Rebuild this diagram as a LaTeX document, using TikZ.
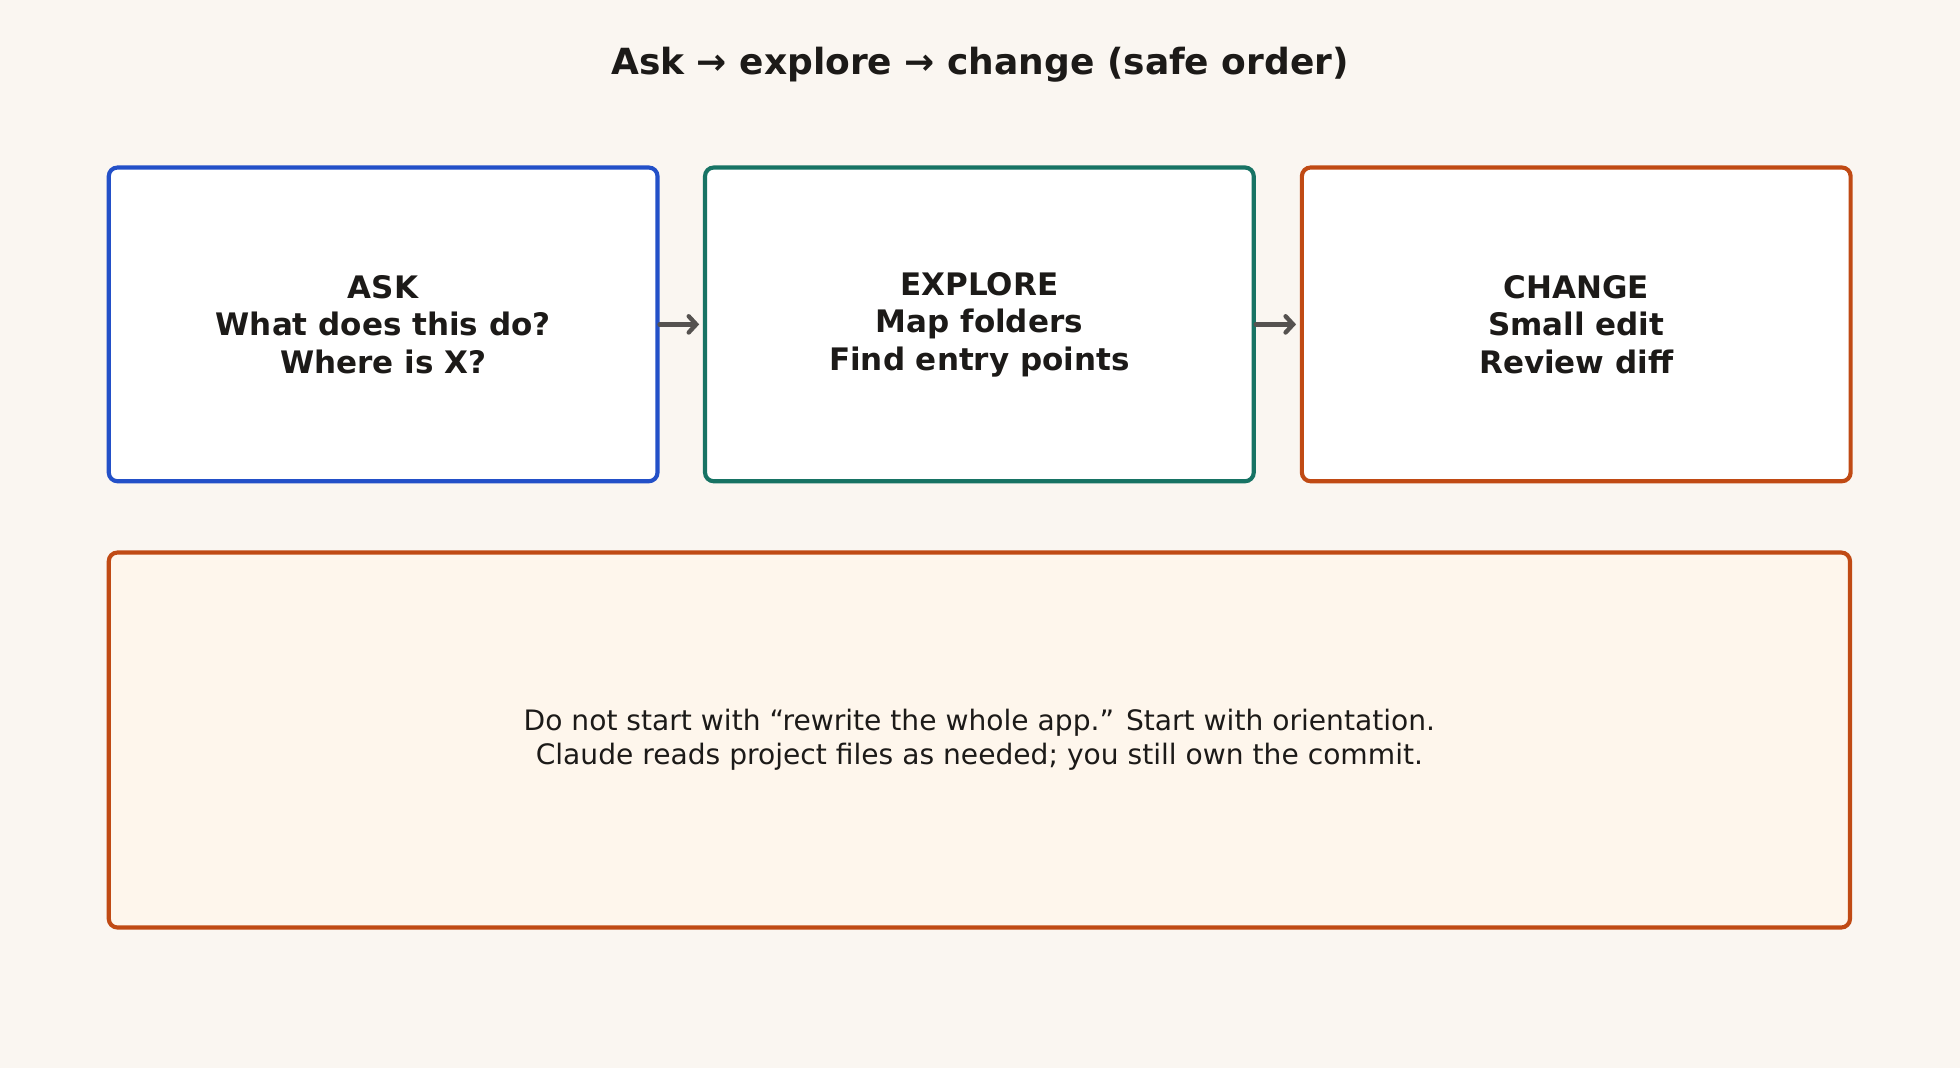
\documentclass[tikz,border=0pt]{standalone}
\usepackage{fontspec}
\setmainfont{DejaVu Sans}
\usetikzlibrary{arrows.meta}
\definecolor{bg}{HTML}{FAF6F1}
\definecolor{cblue}{HTML}{2350C8}
\definecolor{cteal}{HTML}{177364}
\definecolor{corange}{HTML}{C04A14}
\definecolor{note}{HTML}{FEF6EC}
\definecolor{ink}{HTML}{1C1A18}
\definecolor{arr}{HTML}{555250}
\begin{document}
\begin{tikzpicture}[x=1pt,y=-1pt,
  box/.style={draw,line width=3.3pt,rounded corners=7pt,fill=white,minimum width=439pt,minimum height=251pt,align=center,font=\bfseries\fontsize{24.8}{30}\selectfont,text=ink,inner sep=0pt},
  link/.style={draw=arr,line width=3.5pt,line cap=round,-{Straight Barb[length=6pt,width=13pt,line cap=round]},shorten >=3pt}]
\fill[bg] (0,0) rectangle (1568,854);
\useasboundingbox (0,0) rectangle (1568,854);
\node[font=\bfseries\fontsize{28.8}{34}\selectfont,text=ink] (title) at (784,52) {Ask → explore → change (safe order)};
\node[box,draw=cblue] (ask) at (306.5,259.5) {ASK\\What does this do?\\Where is X?};
\node[box,draw=cteal] (exp) at (783.5,259.5) {EXPLORE\\Map folders\\Find entry points};
\node[box,draw=corange] (chg) at (1261,259.5) {CHANGE\\Small edit\\Review diff};
\node[box,draw=corange,fill=note,minimum width=1393pt,minimum height=300pt,font=\fontsize{22.5}{27}\selectfont] (msg) at (783.5,592) {Do not start with “rewrite the whole app.” Start with orientation.\\Claude reads project files as needed; you still own the commit.};
\draw[link] (ask.east) -- (exp.west);
\draw[link] (exp.east) -- (chg.west);
\end{tikzpicture}
\end{document}
